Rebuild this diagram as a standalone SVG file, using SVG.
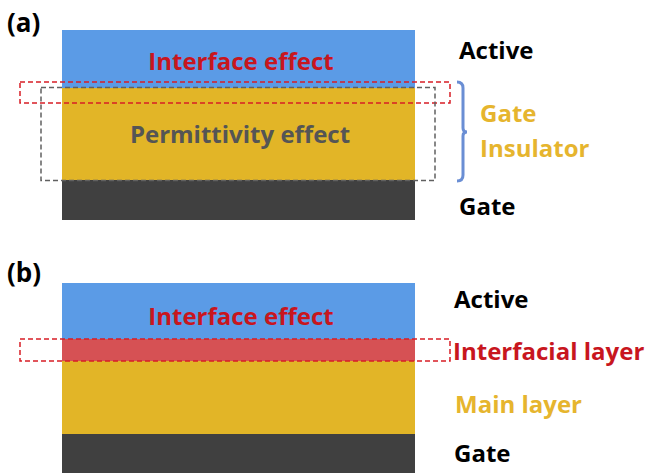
<svg xmlns="http://www.w3.org/2000/svg" width="646" height="475" viewBox="0 0 646 475">
<style>
text{font-family:"Open Sans","Liberation Sans",sans-serif;font-weight:bold;font-size:24px}
.lbl{fill:#000}
.eff{fill:#C8161E;text-anchor:middle}
.gold{fill:#E6B52E}
.dashR{fill:none;stroke:#D81E26;stroke-width:1.5;stroke-dasharray:5,3}
.dashG{fill:none;stroke:#606060;stroke-width:1.5;stroke-dasharray:5,3}
</style>
<rect width="646" height="475" fill="#fff"/>
<g id="panel-a">
<text x="7" y="32" style="font-size:26px">(a)</text>
<g id="a-active"><rect x="62" y="30" width="353" height="58" fill="#5B9BE6"/></g>
<g id="a-insulator"><rect x="62" y="88" width="353" height="92" fill="#E2B527"/></g>
<g id="a-gate"><rect x="62" y="180" width="353" height="40" fill="#404040"/></g>
<text class="eff" x="241" y="70">Interface effect</text>
<text x="240" y="143" style="fill:#555;text-anchor:middle">Permittivity effect</text>
<rect class="dashR" x="20" y="82" width="430" height="21"/>
<rect class="dashG" x="41" y="87.5" width="394" height="93"/>
<path d="M457,82 Q463,82 463,88 L463,128 Q463,132 467,132 Q463,132 463,136 L463,175 Q463,181 457,181" fill="none" stroke="#6A8ED4" stroke-width="3"/>
<text class="lbl" x="459" y="59">Active</text>
<text class="gold" x="480" y="122">Gate</text>
<text class="gold" x="480" y="157">Insulator</text>
<text class="lbl" x="459" y="215">Gate</text>
</g>
<g id="panel-b">
<text x="7" y="282" style="font-size:26px">(b)</text>
<g id="b-active"><rect x="62" y="283" width="353" height="56" fill="#5B9BE6"/></g>
<g id="b-interfacial"><rect x="62" y="339" width="353" height="22" fill="#D65154"/></g>
<g id="b-main"><rect x="62" y="361" width="353" height="73" fill="#E2B527"/></g>
<g id="b-gate"><rect x="62" y="434" width="353" height="39" fill="#404040"/></g>
<text class="eff" x="241" y="325">Interface effect</text>
<rect class="dashR" x="20" y="339" width="430" height="22"/>
<text class="lbl" x="454" y="308">Active</text>
<text x="453" y="360" style="fill:#C8161E">Interfacial layer</text>
<text class="gold" x="455" y="413">Main layer</text>
<text class="lbl" x="454" y="462">Gate</text>
</g>
</svg>
